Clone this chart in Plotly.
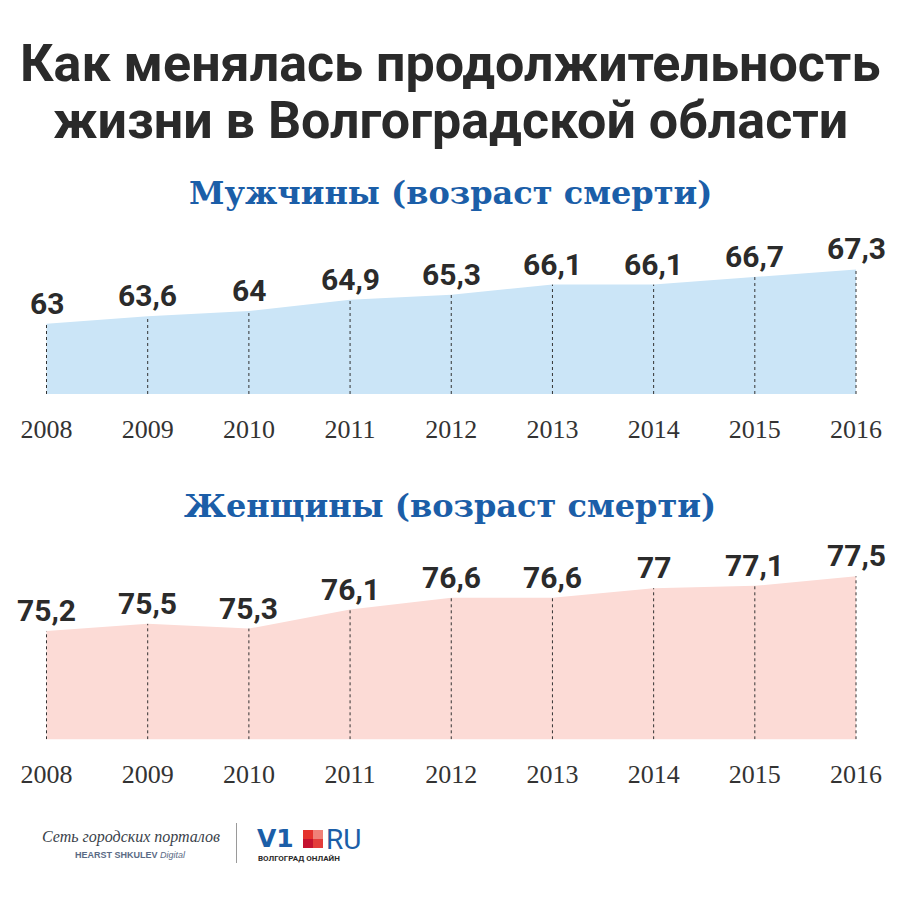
import plotly.graph_objects as go

years = [2008, 2009, 2010, 2011, 2012, 2013, 2014, 2015, 2016]
men = [63, 63.6, 64, 64.9, 65.3, 66.1, 66.1, 66.7, 67.3]
women = [75.2, 75.5, 75.3, 76.1, 76.6, 76.6, 77, 77.1, 77.5]
men_labels = ["63", "63,6", "64", "64,9", "65,3", "66,1", "66,1", "66,7", "67,3"]
women_labels = ["75,2", "75,5", "75,3", "76,1", "76,6", "76,6", "77", "77,1", "77,5"]
year_labels = [str(y) for y in years]

title_lines = ["Как менялась продолжительность", "жизни в Волгоградской области"]
sub_men = "Мужчины (возраст смерти)"
sub_women = "Женщины (возраст смерти)"

OFF = 8  # page body margin
W = H = 892
DARK = "#2b2b2b"
BLUE = "#1b5ea8"
MEN_FILL = "#cbe5f7"
WOMEN_FILL = "#fcdbd6"

men_range = [57.43, 70.43]
women_range = [70.64, 79.03]


def px(p):
    return (p - OFF) / W


def py(p):
    return 1 - (p - OFF) / H


fig = go.Figure()


def add_series(vals, labels, fill, xa, ya, yr):
    fig.add_trace(go.Scatter(
        x=years, y=vals, mode="lines", fill="tozeroy", fillcolor=fill,
        line=dict(width=0, color=fill), xaxis=xa, yaxis=ya, hoverinfo="skip",
        showlegend=False))
    dx, dy = [], []
    for x, v in zip(years, vals):
        dx += [x, x, None]
        dy += [yr[0], v, None]
    fig.add_trace(go.Scatter(
        x=dx, y=dy, mode="lines", line=dict(width=1, color="#333", dash="dot"),
        xaxis=xa, yaxis=ya, hoverinfo="skip", showlegend=False))
    for x, v, t in zip(years, vals, labels):
        fig.add_annotation(
            x=x, y=v, xref=xa, yref=ya,
            text=t, showarrow=False, yanchor="bottom", xanchor="center",
            yshift=1, font=dict(family="Roboto", size=30, color=DARK, weight=700))


add_series(men, men_labels, MEN_FILL, "x", "y", men_range)
add_series(women, women_labels, WOMEN_FILL, "x2", "y2", women_range)

xcommon = dict(range=[2007.6195, 2016.4348], showgrid=False, zeroline=False,
               showline=False, ticks="", tickvals=years, ticktext=year_labels,
               tickfont=dict(family="Liberation Serif", size=26, color="#333"),
               ticklabelstandoff=17, fixedrange=True)
ycommon = dict(showgrid=False, zeroline=False, showline=False,
               showticklabels=False, ticks="", fixedrange=True)

fig.update_layout(
    width=W, height=H, margin=dict(l=0, r=0, t=0, b=0),
    paper_bgcolor="white", plot_bgcolor="rgba(0,0,0,0)",
    xaxis=dict(domain=[0, 1], anchor="y", **xcommon),
    yaxis=dict(domain=[py(394), py(230)], range=men_range, anchor="x", **ycommon),
    xaxis2=dict(domain=[0, 1], anchor="y2", **xcommon),
    yaxis2=dict(domain=[py(739.3), py(540)], range=women_range, anchor="x2", **ycommon),
)


def ptext(text, x, y, size, color, family="Roboto", weight=400, style="normal",
          xanchor="center"):
    fig.add_annotation(x=px(x), y=py(y), xref="paper", yref="paper",
                       text=text, showarrow=False, xanchor=xanchor, yanchor="middle",
                       font=dict(family=family, size=size, color=color,
                                 weight=weight, style=style))


ptext(title_lines[0], 450, 63, 52, "#2a2a2a", weight=700)
ptext(title_lines[1], 450, 120, 52, "#2a2a2a", weight=700)
ptext(sub_men, 450, 193, 32, BLUE, family="DejaVu Serif", weight=700)
ptext(sub_women, 450, 506, 32, BLUE, family="DejaVu Serif", weight=700)

# footer logos
ptext("Сеть городских порталов", 131, 837, 16, "#3a3f4a", family="Liberation Serif",
      style="italic")
ptext("<b>HEARST SHKULEV</b> <i>Digital</i>", 130, 855, 9, "#5a6a85",
      family="Liberation Sans")
fig.add_shape(type="line", xref="paper", yref="paper", x0=px(236.5), x1=px(236.5),
              y0=py(863), y1=py(823), line=dict(color="#9a9a9a", width=1))
ptext("V1", 255, 838, 25, "#1b5ea8", family="DejaVu Sans", weight=700, xanchor="left")
sq = [(303, 830, "#e5322d"), (313, 830, "#f08078"), (303, 839, "#c4122f"), (313, 839, "#e33c3a")]
for sx, sy, c in sq:
    fig.add_shape(type="rect", xref="paper", yref="paper", x0=px(sx), x1=px(sx + 10),
                  y0=py(sy + 9), y1=py(sy), line=dict(width=0), fillcolor=c)
ptext("RU", 324, 839, 28, "#1b5ea8", family="Roboto", weight=400, xanchor="left")
ptext("ВОЛГОГРАД ОНЛАЙН", 256, 858, 8, "#2a2a2a", family="Roboto", weight=700,
      xanchor="left")

fig.write_html("out.html")
